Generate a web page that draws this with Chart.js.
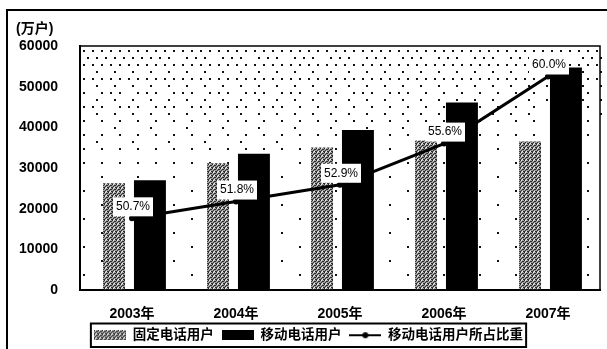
<!DOCTYPE html>
<html>
<head>
<meta charset="utf-8">
<script src="https://cdn.jsdelivr.net/npm/chart.js@4.4.1/dist/chart.umd.min.js"></script>
<style>
  html, body { margin: 0; padding: 0; background: #fff; }
  #wrap { width: 607px; height: 349px; }
</style>
</head>
<body>
<div id="wrap"><canvas id="myChart"></canvas></div>
<script>
// 固定 / 移动电话用户 (万户) and mobile share (%)
const years = ['2003年', '2004年', '2005年', '2006年', '2007年'];
const fixedUsers = [26275, 31176, 35045, 36779, 36545];
const mobileUsers = [26995, 33483, 39341, 46108, 54731];
const mobileShare = [50.7, 51.8, 52.9, 55.6, 60.0];
const yTicks = [0, 10000, 20000, 30000, 40000, 50000, 60000];
const unitLabel = '(万户)';
const seriesNames = ['固定电话用户', '移动电话用户', '移动电话用户所占比重'];

const FONT = '"Liberation Sans", "Noto Sans CJK SC", sans-serif';

// stippled gray fill for the fixed-line bars
function grayTile() {
  const c = document.createElement('canvas');
  c.width = 4; c.height = 4;
  const g = c.getContext('2d');
  g.fillStyle = '#a0a0a0';
  g.fillRect(0, 0, 4, 4);
  g.fillStyle = '#2a2a2a';
  [[0, 0], [2, 1], [1, 2], [3, 3], [0, 3], [3, 1]].forEach(p => g.fillRect(p[0], p[1], 1, 1));
  g.fillStyle = '#f0f0f0';
  [[2, 3], [1, 0]].forEach(p => g.fillRect(p[0], p[1], 1, 1));
  return c;
}
const tile = grayTile();
const ctx = document.getElementById('myChart').getContext('2d');
const grayFill = ctx.createPattern(tile, 'repeat');

// legend icons
function boxIcon(fill) {
  const c = document.createElement('canvas');
  c.width = 32; c.height = 10;
  const g = c.getContext('2d');
  g.fillStyle = fill === 'gray' ? g.createPattern(tile, 'repeat') : fill;
  g.fillRect(0, 0, 32, 10);
  return c;
}
function lineIcon() {
  const c = document.createElement('canvas');
  c.width = 32; c.height = 10;
  const g = c.getContext('2d');
  g.strokeStyle = '#000';
  g.lineWidth = 2;
  g.beginPath(); g.moveTo(0, 5); g.lineTo(32, 5); g.stroke();
  g.fillStyle = '#000';
  g.beginPath(); g.arc(16, 5, 3, 0, Math.PI * 2); g.fill();
  return c;
}
const legendIcons = [boxIcon('gray'), boxIcon('#000'), lineIcon()];

// frame, plot-area stipple and borders
const decor = {
  id: 'decor',
  beforeDraw(chart) {
    const c = chart.ctx;
    c.save();
    c.strokeStyle = '#000';
    c.lineWidth = 2;
    c.beginPath();
    c.moveTo(7, 349); c.lineTo(7, 10); c.lineTo(607, 10);
    c.stroke();
    c.font = 'bold 14px ' + FONT;
    c.fillStyle = '#000';
    c.textBaseline = 'middle';
    c.fillText(unitLabel, 16, 29);
    c.restore();
  },
  beforeDatasetsDraw(chart) {
    const a = chart.chartArea;
    const c = chart.ctx;
    const bayer = [[0, 8, 2, 10], [12, 4, 14, 6], [3, 11, 1, 9], [15, 7, 13, 5]];
    c.save();
    c.fillStyle = '#111';
    const h = a.bottom - a.top;
    for (let gy = 0; a.top + 4 + gy * 7 < a.bottom - 2; gy++) {
      const py = a.top + 4 + gy * 7;
      const t = (py - a.top) / h;
      for (let gx = 0; a.left + 3 + gx * 9 < a.right - 2; gx++) {
        const px = a.left + 3 + gx * 9 + (gy % 2) * 4;
        const tx = (px - a.left) / (a.right - a.left);
        let d = 0.9 - 1.7 * t + 0.15 * (0.5 - tx);
        d = Math.max(0.07, Math.min(1, d));
        if (bayer[gy % 4][gx % 4] / 16 < d) c.fillRect(px, py, 2, 2);
      }
    }
    c.restore();
  },
  afterDatasetsDraw(chart) {
    const c = chart.ctx;
    const meta = chart.getDatasetMeta(2);
    c.save();
    c.font = '12px ' + FONT;
    c.textAlign = 'center';
    c.textBaseline = 'middle';
    meta.data.forEach((pt, i) => {
      const w = 40, hh = 19;
      const x = pt.x + 1 - w / 2, y = pt.y - 2 - hh;
      c.fillStyle = '#fff';
      c.fillRect(x, y, w, hh);
      c.fillStyle = '#000';
      c.fillText(mobileShare[i].toFixed(1) + '%', pt.x + 1, y + hh / 2);
    });
    const a = chart.chartArea;
    c.strokeStyle = '#000';
    c.lineWidth = 1.5;
    c.strokeRect(a.left, a.top, a.right - a.left, a.bottom - a.top);
    c.restore();
  },
  afterDraw(chart) {
    const hb = chart.legend.legendHitBoxes;
    if (!hb || !hb.length) return;
    const l = Math.min(...hb.map(b => b.left)) - 3;
    const r = Math.max(...hb.map(b => b.left + b.width)) + 3;
    const t = hb[0].top - 5;
    const b = hb[0].top + hb[0].height + 5;
    const c = chart.ctx;
    c.save();
    c.strokeStyle = '#000';
    c.lineWidth = 2;
    c.strokeRect(l, t, r - l, b - t);
    c.restore();
  }
};

new Chart(ctx, {
  type: 'bar',
  data: {
    labels: years,
    datasets: [
      {
        label: seriesNames[0],
        data: fixedUsers,
        backgroundColor: grayFill,
        categoryPercentage: 0.69,
        barPercentage: 0.61,
        order: 1
      },
      {
        label: seriesNames[1],
        data: mobileUsers,
        backgroundColor: '#000',
        categoryPercentage: 0.69,
        barPercentage: 0.89,
        order: 1
      },
      {
        type: 'line',
        label: seriesNames[2],
        data: mobileShare,
        yAxisID: 'y1',
        borderColor: '#000',
        borderWidth: 3,
        pointRadius: 3,
        pointBackgroundColor: '#000',
        pointBorderWidth: 0,
        order: 0
      }
    ]
  },
  options: {
    responsive: true,
    maintainAspectRatio: false,
    animation: false,
    devicePixelRatio: 1,
    layout: { padding: { top: 46, left: 17, right: 7, bottom: -3 } },
    scales: {
      x: {
        grid: { display: false, drawTicks: false },
        border: { display: true, color: '#000', width: 2 },
        ticks: { color: '#000', padding: 16, font: { family: FONT, size: 14, weight: 'bold' } },
        afterFit: s => { s.height = 30.5; }
      },
      y: {
        min: 0,
        max: 60000,
        afterBuildTicks: s => { s.ticks = yTicks.map(v => ({ value: v })); },
        grid: { display: false, drawTicks: false },
        border: { display: true, color: '#000', width: 2 },
        ticks: {
          color: '#000',
          padding: 22,
          font: { family: FONT, size: 14, weight: 'bold' },
          callback: v => String(v)
        },
        afterFit: s => { s.width = 63; }
      },
      y1: {
        type: 'linear',
        display: false,
        min: 46,
        max: 62
      }
    },
    plugins: {
      tooltip: { enabled: false },
      legend: {
        position: 'bottom',
        labels: {
          usePointStyle: true,
          pointStyleWidth: 32,
          boxHeight: 10,
          padding: 8,
          color: '#000',
          font: { family: FONT, size: 13.5, weight: 'bold' },
          generateLabels: chart => chart.data.datasets.map((ds, i) => ({
            text: ds.label,
            pointStyle: legendIcons[i],
            datasetIndex: i,
            hidden: false,
            fillStyle: '#000',
            strokeStyle: '#000',
            lineWidth: 0,
            fontColor: '#000'
          }))
        }
      }
    }
  },
  plugins: [decor]
});
</script>
</body>
</html>
